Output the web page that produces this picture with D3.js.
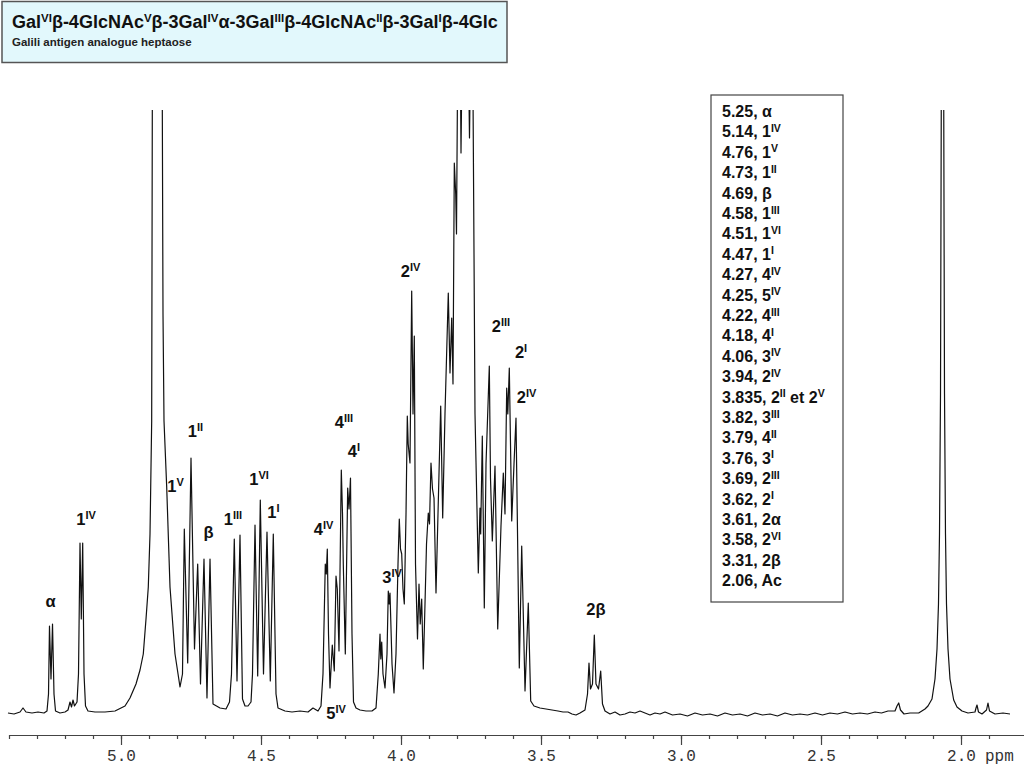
<!DOCTYPE html>
<html>
<head>
<meta charset="utf-8">
<script src="https://cdn.jsdelivr.net/npm/d3@7"></script>
<style>
  html, body { margin: 0; padding: 0; background: #fff; }
  svg { display: block; }
</style>
</head>
<body>
<div id="chart"></div>
<script>
'use strict';

const titleText = 'Gal{VI}β-4GlcNAc{V}β-3Gal{IV}α-3Gal{III}β-4GlcNAc{II}β-3Gal{I}β-4Glc';
const subtitleText = 'Galili antigen analogue heptaose';

// 1H trace: chemical shift (ppm) and intensity
const spectrumPpm = [
    5.4036, 5.3821, 5.3607, 5.35, 5.3393, 5.3179, 5.2964, 5.275, 5.2643, 5.2589, 5.2554, 5.25, 5.2446, 5.2393, 5.2339,
    5.2179, 5.2, 5.1893, 5.1821, 5.1768, 5.1714, 5.1661, 5.1571, 5.1518, 5.1464, 5.1418, 5.1368, 5.1321, 5.1268, 5.1179,
    5.0929, 5.0571, 5.0214, 4.9857, 4.9679, 4.9464, 4.9321, 4.9204, 4.9107, 4.9025, 4.8964, 4.8939, 4.8904, 4.8875, 4.8536,
    4.85, 4.8464, 4.8368, 4.825, 4.8071, 4.7893, 4.7804, 4.7739, 4.7618, 4.75, 4.7375, 4.7261, 4.7161, 4.7036, 4.6929,
    4.6821, 4.6714, 4.6464, 4.625, 4.6125, 4.6054, 4.5954, 4.5857, 4.575, 4.5661, 4.5571, 4.5464, 4.5357, 4.5304, 4.5214,
    4.5118, 4.5025, 4.4911, 4.4786, 4.4668, 4.4561, 4.4464, 4.4393, 4.4143, 4.3893, 4.3607, 4.3321, 4.3143, 4.2964, 4.2857,
    4.2786, 4.2704, 4.2668, 4.2632, 4.2589, 4.2536, 4.2454, 4.2382, 4.2321, 4.2275, 4.2214, 4.2132, 4.2089, 4.2061, 4.1989,
    4.1904, 4.1857, 4.1804, 4.175, 4.1696, 4.1607, 4.1464, 4.125, 4.1036, 4.0893, 4.0811, 4.075, 4.0721, 4.0689, 4.0643,
    4.0571, 4.05, 4.0454, 4.0421, 4.0393, 4.0321, 4.025, 4.0179, 4.0107, 4.0061, 4.0018, 3.9975, 3.9929, 3.9882, 3.9821,
    3.9775, 3.9743, 3.9679, 3.9618, 3.9571, 3.9525, 3.9482, 3.9411, 3.9357, 3.9314, 3.9261, 3.9204, 3.9143, 3.9089, 3.9025,
    3.8982, 3.8929, 3.8875, 3.8821, 3.875, 3.8661, 3.8582, 3.8511, 3.8429, 3.8311, 3.825, 3.8189, 3.8143, 3.8096, 3.8046,
    3.8018, 3.7964, 3.7893, 3.7857, 3.7804, 3.7607, 3.7554, 3.75, 3.7446, 3.7357, 3.7239, 3.7179, 3.7154, 3.7096, 3.7025,
    3.6964, 3.6904, 3.6846, 3.6804, 3.6739, 3.6643, 3.6546, 3.6429, 3.6346, 3.6286, 3.6225, 3.6186, 3.6132, 3.6046, 3.5964,
    3.5893, 3.5775, 3.5689, 3.5643, 3.5571, 3.5454, 3.5368, 3.525, 3.5036, 3.4821, 3.4607, 3.4393, 3.4214, 3.4036, 3.3893,
    3.375, 3.3607, 3.3429, 3.3339, 3.3286, 3.3232, 3.3161, 3.3096, 3.3036, 3.2946, 3.2868, 3.2804, 3.2714, 3.2536, 3.2357,
    3.2179, 3.2, 3.1821, 3.1643, 3.1464, 3.1286, 3.1107, 3.0929, 3.075, 3.0571, 3.0304, 3.0036, 2.9768, 2.95, 2.9232,
    2.8964, 2.8696, 2.8429, 2.8161, 2.7893, 2.7625, 2.7357, 2.7089, 2.6821, 2.6554, 2.6286, 2.6018, 2.575, 2.5482, 2.5214,
    2.4946, 2.4679, 2.4411, 2.4143, 2.3875, 2.3607, 2.3339, 2.3071, 2.2839, 2.2607, 2.2357, 2.2286, 2.2225, 2.2161, 2.2036,
    2.1821, 2.1511, 2.1286, 2.1179, 2.1036, 2.0929, 2.0857, 2.0804, 2.0768, 2.0732, 2.0696, 2.0625, 2.0589, 2.0554, 2.0518,
    2.0464, 2.0393, 2.0261, 2.0143, 1.9964, 1.975, 1.95, 1.9464, 1.9429, 1.9375, 1.925, 1.9089, 1.9036, 1.8982, 1.8786,
    1.85, 1.825
];
const spectrumIntensity = [
    1, 0, 2, 6, 2, 1, 2, 1, 3, 20, 88, 35, 90, 20, 3,
    1, 2, 4, 12, 7, 14, 8, 12, 40, 171, 95, 171, 40, 8, 3,
    2, 2, 3, 8, 16, 30, 44, 60, 95, 127, 180, 227, 293, 700, 700,
    400, 293, 227, 127, 60, 27, 40, 185, 51, 256, 65, 150, 30, 155, 16,
    155, 10, 6, 5, 12, 40, 175, 33, 179, 15, 8, 8, 12, 40, 189,
    38, 214, 40, 182, 33, 180, 20, 6, 3, 2, 3, 2, 6, 3, 8,
    40, 150, 140, 165, 80, 26, 69, 43, 138, 125, 63, 244, 200, 150, 60,
    226, 205, 236, 80, 12, 6, 4, 3, 3, 6, 40, 80, 55, 72, 40,
    26, 60, 123, 110, 121, 50, 21, 60, 150, 195, 165, 160, 125, 110, 200,
    298, 270, 251, 423, 300, 378, 150, 75, 130, 90, 115, 45, 110, 170, 201,
    190, 251, 225, 216, 121, 220, 308, 196, 300, 421, 341, 396, 330, 551, 520,
    480, 700, 700, 561, 700, 700, 576, 700, 700, 300, 141, 206, 180, 278, 106,
    250, 300, 348, 236, 173, 248, 85, 188, 241, 200, 326, 300, 346, 193, 250,
    296, 46, 168, 113, 23, 111, 13, 8, 6, 5, 4, 3, 2, 2, 0,
    -1, 1, 4, 20, 51, 25, 30, 79, 30, 25, 43, 10, 3, 0, 2,
    -1, 0, 2, 1, 3, 1, -1, 1, 0, 2, -1, 0, -2, 1, -1,
    0, -2, 1, -1, 0, -2, 1, -1, 0, -2, 1, -1, 0, -1, 1,
    -1, 1, 0, 2, 0, 1, 0, 2, 1, 3, 3, 8, 11, 4, 0,
    1, 1, 5, 8, 15, 35, 65, 110, 180, 320, 700, 700, 320, 180, 110,
    65, 35, 14, 7, 3, 1, 2, 6, 9, 2, 0, 4, 11, 3, 0,
    1, 0
];

// peak annotations on the trace ({..} = superscript)
const peakLabels = ['α', '1{IV}', '1{V}', '1{II}', 'β', '1{III}', '1{VI}', '1{I}', '4{IV}', '4{III}', '4{I}',
    '5{IV}', '3{IV}', '2{IV}', '2{III}', '2{I}', '2{IV}', '2β'];
const peakLabelPpm = [5.2518, 5.125, 4.8054, 4.7339, 4.6875, 4.6, 4.5071, 4.4554, 4.2768, 4.2036, 4.1679,
    4.2321, 4.0321, 3.9661, 3.6429, 3.5714, 3.5518, 3.3036];
const peakLabelIntensity = [107, 189, 222, 277, 176, 189, 229, 196, 179, 286, 257,
    -5, 131, 437, 382, 356, 311, 99];

// assignment table
const assignmentShifts = ['5.25', '5.14', '4.76', '4.73', '4.69', '4.58', '4.51', '4.47', '4.27', '4.25', '4.22', '4.18',
    '4.06', '3.94', '3.835', '3.82', '3.79', '3.76', '3.69', '3.62', '3.61', '3.58', '3.31', '2.06'];
const assignmentNames = ['α', '1{IV}', '1{V}', '1{II}', 'β', '1{III}', '1{VI}', '1{I}', '4{IV}', '5{IV}', '4{III}', '4{I}',
    '3{IV}', '2{IV}', '2{II} et 2{V}', '3{III}', '4{II}', '3{I}', '2{III}', '2{I}', '2α', '2{VI}', '2β', 'Ac'];

const majorTicks = [5.0, 4.5, 4.0, 3.5, 3.0, 2.5, 2.0];
const minorTicks = d3.range(54, 18, -1).map(d => d / 10);

// write a string with {..} superscripts into a text element
function richText(sel, str, supSize, shift) {
    const parts = str.split(/\{([^}]*)\}/);
    let raised = false;
    parts.forEach((p, i) => {
        if (!p) return;
        const t = sel.append('tspan').text(p);
        if (i % 2 === 1) {
            t.attr('font-size', supSize).attr('dy', -shift);
            raised = true;
        } else if (raised) {
            t.attr('dy', shift);
            raised = false;
        }
    });
}

const width = 1024;
const height = 768;
const font = '"Liberation Sans", Arial, sans-serif';

const svg = d3.select('#chart')
      .append('svg')
      .attr('width', width)
      .attr('height', height)
      .style('font-family', font);

const x = d3.scaleLinear().domain([5.4, 1.775]).range([9, 1024]);
const y = d3.scaleLinear().domain([0, 604]).range([714, 110]);

svg.append('clipPath')
    .attr('id', 'plot-clip')
    .append('rect')
    .attr('x', 0)
    .attr('y', y(604))
    .attr('width', width)
    .attr('height', y(-20) - y(604));

// spectrum
const line = d3.line()
      .x(d => x(d[0]))
      .y(d => y(d[1]));

svg.append('path')
    .datum(spectrumPpm.map((p, i) => [p, spectrumIntensity[i]]))
    .attr('clip-path', 'url(#plot-clip)')
    .attr('fill', 'none')
    .attr('stroke', '#111')
    .attr('stroke-width', 1.2)
    .attr('stroke-linejoin', 'round')
    .attr('d', line);

// axis
const axisY = 735;
const minorAxis = svg.append('g')
    .attr('transform', `translate(0,${axisY})`)
    .call(d3.axisBottom(x).tickValues(minorTicks).tickSize(4).tickSizeOuter(0).tickFormat(''));
minorAxis.select('.domain').remove();

const majorAxis = svg.append('g')
    .attr('transform', `translate(0,${axisY})`)
    .call(d3.axisBottom(x).tickValues(majorTicks).tickSize(10).tickSizeOuter(0).tickPadding(5).tickFormat(d3.format('.1f')));

svg.selectAll('.domain, .tick line').attr('stroke', '#444').attr('stroke-width', 1.2);
majorAxis.selectAll('text')
    .attr('fill', '#333')
    .style('font', '16px "Liberation Mono", "Courier New", monospace');

svg.append('text')
    .attr('x', x(2.0) + 24)
    .attr('y', axisY + 26)
    .attr('fill', '#333')
    .style('font', '16px "Liberation Mono", "Courier New", monospace')
    .text('ppm');

// peak labels
peakLabels.forEach((lab, i) => {
    const t = svg.append('text')
        .attr('x', x(peakLabelPpm[i]))
        .attr('y', y(peakLabelIntensity[i]))
        .attr('text-anchor', 'middle')
        .attr('font-weight', 'bold')
        .attr('font-size', 16.5)
        .attr('fill', '#111');
    richText(t, lab, 11, 6);
});

// title box
svg.append('rect')
    .attr('x', 2).attr('y', 1.5)
    .attr('width', 505).attr('height', 61)
    .attr('fill', '#e2f8fc')
    .attr('stroke', '#555')
    .attr('stroke-width', 1.5);

const title = svg.append('text')
    .attr('x', 12).attr('y', 28)
    .attr('font-weight', 'bold')
    .attr('font-size', 18)
    .attr('fill', '#111');
richText(title, titleText, 11.5, 6.5);

svg.append('text')
    .attr('x', 12).attr('y', 46)
    .attr('font-weight', 'bold')
    .attr('font-size', 11.5)
    .attr('fill', '#222')
    .text(subtitleText);

// assignment table
svg.append('rect')
    .attr('x', 711).attr('y', 95)
    .attr('width', 132).attr('height', 507)
    .attr('fill', '#fff')
    .attr('stroke', '#444')
    .attr('stroke-width', 1.2);

assignmentShifts.forEach((s, i) => {
    const t = svg.append('text')
        .attr('x', 722)
        .attr('y', 117 + i * 20.4)
        .attr('font-weight', 'bold')
        .attr('font-size', 16)
        .attr('fill', '#111');
    richText(t, s + ', ' + assignmentNames[i], 10.5, 5.5);
});
</script>
</body>
</html>
